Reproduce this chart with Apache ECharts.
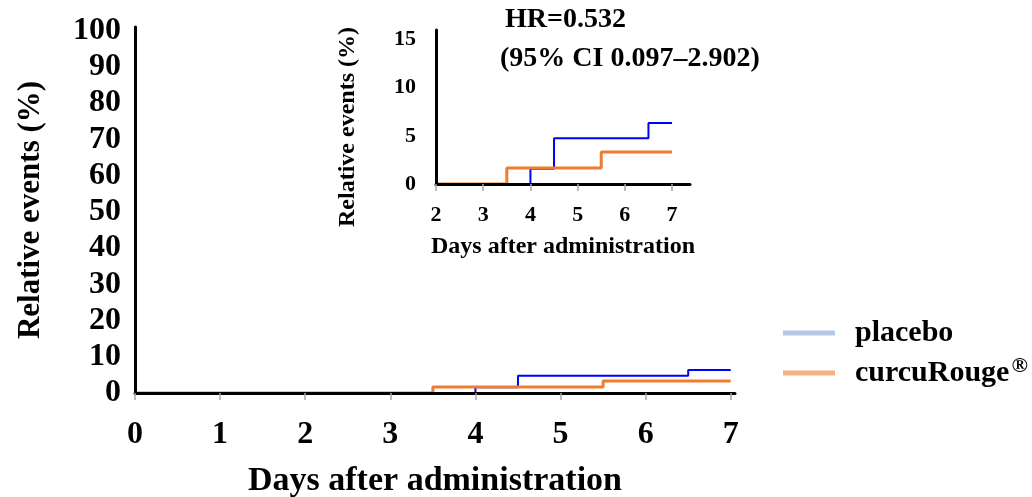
<!DOCTYPE html>
<html><head><meta charset="utf-8">
<script src="https://cdn.jsdelivr.net/npm/echarts@6/dist/echarts.min.js"></script>
<style>html,body{margin:0;padding:0;background:#fff}#c{width:1032px;height:497px}</style>
</head><body><div id="c"></div>
<script>
const seriesNames = ['placebo', 'curcuRouge®'];
const placeboSteps = [[0, 0], [4, 1.59], [4.5, 4.76], [6.5, 6.35], [7, 6.35]];
const curcuSteps = [[0, 0], [3.5, 1.67], [5.5, 3.33], [7, 3.33]];
const mainXTicks = [0, 1, 2, 3, 4, 5, 6, 7];
const mainYTicks = [0, 10, 20, 30, 40, 50, 60, 70, 80, 90, 100];
const insetXTicks = [2, 3, 4, 5, 6, 7];
const insetYTicks = [0, 5, 10, 15];
const hrText = ['HR=0.532', '(95% CI 0.097–2.902)'];

const FONT = '"Liberation Serif", "Times New Roman", serif';
const lineColors = ['#0000ff', '#ed7d31'];
const legendColors = ['#b4c7e7', '#f4b183'];

function xAxisCfg(gridIndex, min, max, ticks, fs, nameSize, nameGap, margin) {
  return {
    type: 'value', gridIndex, min, max, z: 10,
    name: 'Days after administration', nameLocation: 'middle', nameGap,
    nameTextStyle: {fontFamily: FONT, fontWeight: 'bold', fontSize: nameSize, color: '#000'},
    axisLine: {show: true, onZero: false, lineStyle: {color: '#000', width: 3}},
    axisTick: {show: true, length: 7, customValues: ticks, lineStyle: {color: '#a6a6a6', width: 1.5}},
    axisLabel: {customValues: ticks, fontFamily: FONT, fontWeight: 'bold', fontSize: fs, color: '#000', margin},
    splitLine: {show: false}
  };
}
function yAxisCfg(gridIndex, min, max, ticks, fs, nameSize, nameGap, margin, namePad) {
  return {
    type: 'value', gridIndex, min, max, z: 10,
    name: 'Relative events (%)', nameLocation: 'middle', nameGap,
    nameTextStyle: {fontFamily: FONT, fontWeight: 'bold', fontSize: nameSize, color: '#000', padding: namePad},
    axisLine: {show: true, lineStyle: {color: '#000', width: 3}},
    axisTick: {show: false},
    axisLabel: {customValues: ticks, fontFamily: FONT, fontWeight: 'bold', fontSize: fs, color: '#000', margin},
    splitLine: {show: false}
  };
}

const chart = echarts.init(document.getElementById('c'), null, {renderer: 'canvas'});
chart.setOption({
  animation: false,
  backgroundColor: '#fff',
  grid: [
    {left: 135, right: 297, top: 27, bottom: 104, outerBoundsMode: 'none'},
    {left: 436, right: 342, top: 30, bottom: 313, outerBoundsMode: 'none'}
  ],
  xAxis: [
    xAxisCfg(0, 0, 7.05, mainXTicks, 32, 34, 71, 26),
    xAxisCfg(1, 2, 7.38, insetXTicks, 22, 24, 51, 20)
  ],
  yAxis: [
    yAxisCfg(0, 0, 101, mainYTicks, 32, 31, 89, 14, 0),
    yAxisCfg(1, 0, 16, insetYTicks, 22, 24, 76, 20, [0, 40, 0, 0])
  ],
  legend: {
    orient: 'vertical', left: 783, top: 318, itemWidth: 52, itemHeight: 5, itemGap: 7, padding: 0,
    icon: 'rect',
    data: seriesNames.map((n, i) => ({name: n, icon: 'rect', itemStyle: {color: legendColors[i]}})),
    formatter: n => n === 'curcuRouge®' ? '{a|curcuRouge}{s|®}' : '{a|' + n + '}',
    textStyle: {
      padding: [0, 0, 0, 15],
      rich: {
        a: {fontFamily: FONT, fontWeight: 'bold', fontSize: 30, color: '#000'},
        s: {fontFamily: FONT, fontWeight: 'bold', fontSize: 22, color: '#000', padding: [0, 0, 14, 2]}
      }
    }
  },
  graphic: [
    {type: 'text', left: 505, top: 6, style: {text: hrText[0], font: 'bold 28px ' + FONT, fill: '#000'}},
    {type: 'text', left: 500, top: 45, style: {text: hrText[1], font: 'bold 28px ' + FONT, fill: '#000'}}
  ],
  series: [
    {name: seriesNames[0], type: 'line', step: 'end', xAxisIndex: 0, yAxisIndex: 0, data: placeboSteps, symbol: 'none', lineStyle: {color: lineColors[0], width: 2}, itemStyle: {color: lineColors[0]}, z: 2},
    {name: seriesNames[1], type: 'line', step: 'end', xAxisIndex: 0, yAxisIndex: 0, data: curcuSteps, symbol: 'none', lineStyle: {color: lineColors[1], width: 3}, itemStyle: {color: lineColors[1]}, z: 3},
    {name: seriesNames[0], type: 'line', step: 'end', xAxisIndex: 1, yAxisIndex: 1, data: placeboSteps.filter(p => p[0] >= 2 || p[0] === 0).map(p => [Math.max(p[0], 2), p[1]]), symbol: 'none', lineStyle: {color: lineColors[0], width: 2}, itemStyle: {color: lineColors[0]}, z: 2},
    {name: seriesNames[1], type: 'line', step: 'end', xAxisIndex: 1, yAxisIndex: 1, data: curcuSteps.filter(p => p[0] >= 2 || p[0] === 0).map(p => [Math.max(p[0], 2), p[1]]), symbol: 'none', lineStyle: {color: lineColors[1], width: 3}, itemStyle: {color: lineColors[1]}, z: 3}
  ]
});
</script></body></html>
